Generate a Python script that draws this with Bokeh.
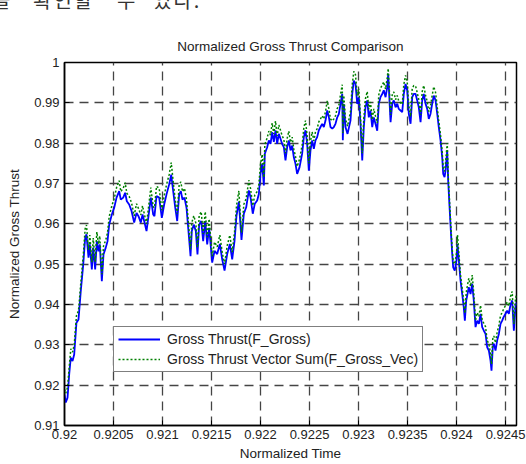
from bokeh.plotting import figure
from bokeh.layouts import column
from bokeh.models import Range1d, FixedTicker, Legend, LegendItem, Div
from bokeh.embed import file_html
from bokeh.resources import INLINE

# Normalized time samples shared by both thrust series
t = [
    0.920000, 0.920013, 0.920031, 0.920048, 0.920064, 0.920082, 0.920099, 0.920122, 0.920143, 0.920166,
    0.920191, 0.920211, 0.920224, 0.920245, 0.920258, 0.920279, 0.920293, 0.920313, 0.920330, 0.920347,
    0.920360, 0.920381, 0.920398, 0.920421, 0.920439, 0.920456, 0.920483, 0.920507, 0.920531, 0.920558,
    0.920574, 0.920599, 0.920619, 0.920636, 0.920660, 0.920684, 0.920711, 0.920735, 0.920755, 0.920779,
    0.920796, 0.920813, 0.920837, 0.920857, 0.920881, 0.920905, 0.920918, 0.920939, 0.920966, 0.920993,
    0.921017, 0.921041, 0.921068, 0.921089, 0.921109, 0.921130, 0.921150, 0.921170, 0.921187, 0.921204,
    0.921224, 0.921245, 0.921265, 0.921286, 0.921299, 0.921319, 0.921340, 0.921357, 0.921374, 0.921395,
    0.921415, 0.921436, 0.921456, 0.921476,
    0.921507, 0.921531, 0.921558, 0.921585, 0.921609, 0.921633, 0.921660, 0.921687, 0.921711, 0.921735,
    0.921755, 0.921779, 0.921806, 0.921830, 0.921854, 0.921881, 0.921898, 0.921921, 0.921942, 0.921966,
    0.921983, 0.922000, 0.922017, 0.922034, 0.922044, 0.922068, 0.922085, 0.922102, 0.922119, 0.922136,
    0.922153, 0.922170, 0.922187, 0.922204, 0.922221, 0.922238, 0.922255, 0.922272, 0.922289, 0.922306,
    0.922323, 0.922340, 0.922357, 0.922374, 0.922398, 0.922425, 0.922442, 0.922459, 0.922476, 0.922493,
    0.922510, 0.922527, 0.922544, 0.922561, 0.922578, 0.922595, 0.922612, 0.922629, 0.922646, 0.922663,
    0.922681, 0.922698, 0.922714, 0.922732, 0.922748, 0.922765, 0.922783, 0.922799, 0.922816, 0.922834,
    0.922840, 0.922850, 0.922867, 0.922888, 0.922918, 0.922936, 0.922952, 0.922969, 0.922987, 0.923003,
    0.923020, 0.923038, 0.923054, 0.923071,
    0.923089, 0.923105, 0.923122, 0.923140, 0.923156, 0.923173, 0.923191, 0.923207, 0.923224, 0.923242,
    0.923258, 0.923276, 0.923293, 0.923303, 0.923316, 0.923327, 0.923344, 0.923360, 0.923378, 0.923395,
    0.923411, 0.923429, 0.923446, 0.923462, 0.923480, 0.923497, 0.923513, 0.923531, 0.923548, 0.923564,
    0.923582, 0.923599, 0.923615, 0.923633, 0.923650, 0.923666, 0.923684, 0.923701, 0.923717, 0.923735,
    0.923752, 0.923768, 0.923786, 0.923803, 0.923819, 0.923837, 0.923854, 0.923864, 0.923878, 0.923888,
    0.923905, 0.923915, 0.923929, 0.923942, 0.923956, 0.923966, 0.923982, 0.924000, 0.924010, 0.924024,
    0.924041, 0.924058, 0.924074, 0.924085, 0.924099, 0.924112, 0.924125, 0.924143, 0.924160, 0.924176,
    0.924194, 0.924211, 0.924228, 0.924245, 0.924262, 0.924279, 0.924296, 0.924313, 0.924330, 0.924347,
    0.924357, 0.924370, 0.924381, 0.924398, 0.924415, 0.924432, 0.924449, 0.924466, 0.924479, 0.924500,
    0.924517, 0.924534, 0.924551, 0.924568, 0.924585, 0.924602, 0.924612,
]

# Gross thrust, F_Gross
f_gross = [
    0.9177, 0.9157, 0.9169, 0.9227, 0.9268, 0.9260, 0.9276, 0.9355, 0.9363, 0.9433,
    0.9499, 0.9565, 0.9574, 0.9516, 0.9549, 0.9487, 0.9541, 0.9487, 0.9557, 0.9532,
    0.9549, 0.9458, 0.9524, 0.9541, 0.9557, 0.9598, 0.9623, 0.9640, 0.9665, 0.9681,
    0.9660, 0.9665, 0.9677, 0.9656, 0.9648, 0.9632, 0.9603, 0.9627, 0.9619, 0.9603,
    0.9623, 0.9607, 0.9582, 0.9619, 0.9665, 0.9623, 0.9619, 0.9669, 0.9665, 0.9615,
    0.9648, 0.9673, 0.9698, 0.9722, 0.9681, 0.9640, 0.9607, 0.9673, 0.9681, 0.9660,
    0.9665, 0.9640, 0.9582, 0.9520, 0.9582, 0.9598, 0.9582, 0.9524, 0.9598, 0.9607,
    0.9557, 0.9607, 0.9549, 0.9590,
    0.9504, 0.9533, 0.9525, 0.9550, 0.9512, 0.9484, 0.9525, 0.9550, 0.9512, 0.9558,
    0.9620, 0.9655, 0.9560, 0.9625, 0.9641, 0.9683, 0.9666, 0.9625, 0.9650, 0.9658,
    0.9674, 0.9724, 0.9749, 0.9695, 0.9774, 0.9790, 0.9807, 0.9798, 0.9827, 0.9803,
    0.9832, 0.9798, 0.9823, 0.9811, 0.9798, 0.9790, 0.9757, 0.9790, 0.9807, 0.9782,
    0.9794, 0.9765, 0.9749, 0.9724, 0.9740, 0.9774, 0.9815, 0.9832, 0.9798, 0.9732,
    0.9782, 0.9807, 0.9786, 0.9807, 0.9815, 0.9832, 0.9840, 0.9848, 0.9840, 0.9856,
    0.9881, 0.9864, 0.9840, 0.9836, 0.9840, 0.9848, 0.9864, 0.9872, 0.9897, 0.9922,
    0.9807, 0.9897, 0.9840, 0.9823, 0.9856, 0.9922, 0.9955, 0.9947, 0.9897, 0.9914,
    0.9848, 0.9757, 0.9840, 0.9889,
    0.9906, 0.9864, 0.9881, 0.9840, 0.9864, 0.9848, 0.9831, 0.9898, 0.9914, 0.9922,
    0.9931, 0.9914, 0.9939, 0.9972, 0.9906, 0.9852, 0.9898, 0.9906, 0.9889, 0.9898,
    0.9885, 0.9881, 0.9877, 0.9922, 0.9947, 0.9931, 0.9873, 0.9848, 0.9914, 0.9922,
    0.9922, 0.9906, 0.9889, 0.9852, 0.9906, 0.9922, 0.9898, 0.9885, 0.9860, 0.9873,
    0.9898, 0.9918, 0.9906, 0.9873, 0.9840, 0.9807, 0.9765, 0.9724, 0.9716, 0.9732,
    0.9782, 0.9707, 0.9641, 0.9583, 0.9526, 0.9492, 0.9484, 0.9509, 0.9550, 0.9509,
    0.9459, 0.9426, 0.9393, 0.9360, 0.9410, 0.9426, 0.9443, 0.9426, 0.9451, 0.9410,
    0.9344, 0.9360, 0.9352, 0.9377, 0.9344, 0.9335, 0.9327, 0.9294, 0.9286, 0.9261,
    0.9236, 0.9294, 0.9303, 0.9286, 0.9311, 0.9327, 0.9352, 0.9360, 0.9368, 0.9377,
    0.9385, 0.9377, 0.9400, 0.9410, 0.9335, 0.9395, 0.9405,
]

# Gross thrust from the vector sum, F_Gross_Vec
f_gross_vec = [
    0.9190, 0.9180, 0.9195, 0.9245, 0.9290, 0.9282, 0.9300, 0.9372, 0.9385, 0.9452,
    0.9520, 0.9588, 0.9597, 0.9535, 0.9572, 0.9505, 0.9565, 0.9506, 0.9580, 0.9550,
    0.9570, 0.9475, 0.9545, 0.9560, 0.9578, 0.9618, 0.9645, 0.9662, 0.9690, 0.9707,
    0.9680, 0.9688, 0.9702, 0.9676, 0.9668, 0.9652, 0.9620, 0.9650, 0.9638, 0.9622,
    0.9645, 0.9626, 0.9600, 0.9640, 0.9690, 0.9642, 0.9640, 0.9693, 0.9688, 0.9634,
    0.9670, 0.9697, 0.9722, 0.9752, 0.9705, 0.9660, 0.9625, 0.9697, 0.9704, 0.9680,
    0.9688, 0.9660, 0.9600, 0.9537, 0.9603, 0.9620, 0.9602, 0.9541, 0.9620, 0.9630,
    0.9575, 0.9630, 0.9567, 0.9612,
    0.9520, 0.9555, 0.9543, 0.9572, 0.9530, 0.9500, 0.9546, 0.9572, 0.9530, 0.9580,
    0.9645, 0.9682, 0.9578, 0.9648, 0.9663, 0.9708, 0.9688, 0.9645, 0.9672, 0.9680,
    0.9697, 0.9748, 0.9772, 0.9715, 0.9797, 0.9813, 0.9830, 0.9820, 0.9850, 0.9823,
    0.9855, 0.9818, 0.9845, 0.9832, 0.9818, 0.9810, 0.9775, 0.9812, 0.9830, 0.9802,
    0.9815, 0.9785, 0.9767, 0.9742, 0.9760, 0.9795, 0.9838, 0.9856, 0.9818, 0.9750,
    0.9805, 0.9828, 0.9806, 0.9828, 0.9836, 0.9853, 0.9860, 0.9868, 0.9860, 0.9878,
    0.9905, 0.9885, 0.9860, 0.9855, 0.9860, 0.9868, 0.9886, 0.9893, 0.9920, 0.9945,
    0.9825, 0.9918, 0.9860, 0.9842, 0.9878, 0.9945, 0.9978, 0.9970, 0.9918, 0.9935,
    0.9867, 0.9775, 0.9862, 0.9910,
    0.9928, 0.9884, 0.9902, 0.9858, 0.9885, 0.9867, 0.9850, 0.9920, 0.9936, 0.9944,
    0.9952, 0.9934, 0.9962, 0.9985, 0.9925, 0.9870, 0.9920, 0.9927, 0.9908, 0.9918,
    0.9904, 0.9900, 0.9896, 0.9945, 0.9968, 0.9952, 0.9892, 0.9866, 0.9936, 0.9943,
    0.9942, 0.9925, 0.9908, 0.9870, 0.9928, 0.9943, 0.9918, 0.9904, 0.9878, 0.9893,
    0.9919, 0.9940, 0.9926, 0.9890, 0.9855, 0.9820, 0.9778, 0.9738, 0.9730, 0.9750,
    0.9800, 0.9720, 0.9655, 0.9595, 0.9538, 0.9505, 0.9500, 0.9528, 0.9572, 0.9525,
    0.9472, 0.9440, 0.9408, 0.9378, 0.9430, 0.9448, 0.9465, 0.9445, 0.9473, 0.9428,
    0.9360, 0.9380, 0.9370, 0.9398, 0.9362, 0.9353, 0.9345, 0.9310, 0.9303, 0.9278,
    0.9252, 0.9315, 0.9322, 0.9305, 0.9332, 0.9348, 0.9373, 0.9380, 0.9388, 0.9398,
    0.9406, 0.9396, 0.9420, 0.9432, 0.9352, 0.9415, 0.9424,
]

x_ticks = [0.92, 0.9205, 0.921, 0.9215, 0.922, 0.9225, 0.923, 0.9235, 0.924, 0.9245]
x_tick_labels = ["0.92", "0.9205", "0.921", "0.9215", "0.922", "0.9225",
                 "0.923", "0.9235", "0.924", "0.9245"]
y_ticks = [0.91, 0.92, 0.93, 0.94, 0.95, 0.96, 0.97, 0.98, 0.99, 1.0]
y_tick_labels = ["0.91", "0.92", "0.93", "0.94", "0.95", "0.96",
                 "0.97", "0.98", "0.99", "1"]

FONT = "Liberation Sans"
TXT = "#222222"

p = figure(width=526, height=454, output_backend="svg", toolbar_location=None,
           x_range=Range1d(0.92, 0.924612), y_range=Range1d(0.91, 1.0),
           min_border_left=64, min_border_right=10, min_border_top=52,
           min_border_bottom=39, margin=0)
p.background_fill_color = "white"
p.border_fill_color = "white"
p.outline_line_color = "black"
p.outline_line_width = 1.5

p.title.text = "Normalized Gross Thrust Comparison"
p.title.align = "center"
p.title.text_font = FONT
p.title.text_font_size = "13.5px"
p.title.text_font_style = "normal"
p.title.text_color = TXT
p.title.standoff = 17

for ax, ticks, labels in ((p.xaxis[0], x_ticks, x_tick_labels),
                          (p.yaxis[0], y_ticks, y_tick_labels)):
    ax.ticker = FixedTicker(ticks=ticks)
    ax.major_label_overrides = {tk: lb for tk, lb in zip(ticks, labels)}
    ax.major_tick_in = 5
    ax.major_tick_out = 0
    ax.minor_tick_line_color = None
    ax.axis_line_color = "black"
    ax.axis_line_width = 1.5
    ax.major_tick_line_color = "black"
    ax.major_label_text_font = FONT
    ax.major_label_text_font_size = "13px"
    ax.major_label_text_color = TXT
    ax.axis_label_text_font = FONT
    ax.axis_label_text_font_size = "13.5px"
    ax.axis_label_text_font_style = "normal"
    ax.axis_label_text_color = TXT

p.xaxis.axis_label = "Normalized Time"
p.yaxis.axis_label = "Normalized Gross Thrust"
p.xaxis.major_label_standoff = 4
p.xaxis.axis_label_standoff = 4
p.yaxis.major_label_standoff = 5
p.yaxis.axis_label_standoff = 9

p.xgrid.ticker = FixedTicker(ticks=x_ticks)
p.ygrid.ticker = FixedTicker(ticks=y_ticks)
for g in (p.xgrid, p.ygrid):
    g.grid_line_color = "#444444"
    g.grid_line_width = 1.3
    g.grid_line_dash = "9 6"

r_gross = p.line(t, f_gross, line_color="#0000ff", line_width=1.8)
r_vec = p.line(t, f_gross_vec, line_color="#008000", line_width=1.5, line_dash="2 2")

legend = Legend(items=[LegendItem(label="Gross Thrust(F_Gross)", renderers=[r_gross]),
                       LegendItem(label="Gross Thrust Vector Sum(F_Gross_Vec)", renderers=[r_vec])],
                location=(49, 53))
legend.label_text_font = FONT
legend.label_text_font_size = "14px"
legend.label_text_color = TXT
legend.border_line_color = "black"
legend.border_line_width = 1.2
legend.background_fill_color = "white"
legend.background_fill_alpha = 1.0
legend.glyph_width = 42
legend.glyph_height = 16
legend.label_height = 16
legend.label_standoff = 7
legend.spacing = 4
legend.padding = 4
legend.margin = 0
p.add_layout(legend, "center")

# Tail of the preceding paragraph, cut by the top edge of the page
span = "position:absolute; top:-12px; white-space:pre;"
words = [("을", -8), ("확인할", 33), ("수", 117), ("있다.", 153)]
html = ('<div style="position:relative; width:526px; height:10px; '
        'font-family:\'Noto Sans CJK KR\'; font-size:20px; line-height:20px; '
        'color:#333333;">'
        + "".join(f'<span style="{span} left:{x}px; letter-spacing:2px;">{w}</span>'
                  for w, x in words)
        + "</div>")
head = Div(text=html, width=526, height=10, margin=0)

open("out.html", "w").write(file_html(column(head, p, spacing=0), INLINE))
